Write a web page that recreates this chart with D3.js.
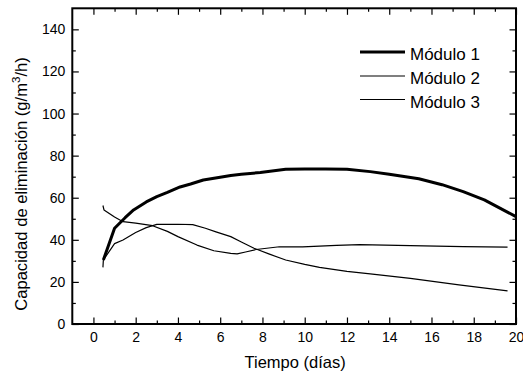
<!DOCTYPE html>
<html>
<head>
<meta charset="utf-8">
<script src="https://cdn.jsdelivr.net/npm/d3@7"></script>
<style>
  html, body { margin: 0; padding: 0; background: #fff; }
  svg { display: block; font-family: "Liberation Sans", Arial, sans-serif; }
</style>
</head>
<body>
<svg id="chart" width="523" height="375"></svg>
<script>
// Elimination capacity over time for three biofilter modules
const seriesNames = ["Módulo 1", "Módulo 2", "Módulo 3"];

const dias1 = [0.47, 1.0, 1.5, 1.9, 2.5, 3.0, 3.5, 4.1, 4.6, 5.2, 6.0, 6.5, 7.0, 7.9, 9.1, 10.0, 11.0, 12.0, 13.1, 14.0, 15.4, 16.5, 17.5, 18.5, 20.0];
const modulo1 = [30.4, 45.5, 50.5, 54.2, 58.0, 60.5, 62.5, 65.1, 66.5, 68.4, 69.7, 70.6, 71.1, 72.0, 73.5, 73.6, 73.6, 73.5, 72.4, 71.2, 69.0, 66.2, 62.9, 59.0, 51.0];

const dias2 = [0.45, 0.47, 1.0, 1.4, 2.0, 2.5, 3.0, 4.0, 4.7, 5.3, 5.8, 6.5, 7.0, 7.6, 8.3, 9.1, 10.0, 10.7, 12.0, 13.1, 15.0, 17.3, 19.6];
const modulo2 = [26.9, 30.4, 38.2, 39.9, 43.5, 45.8, 47.3, 47.4, 47.2, 45.5, 43.8, 41.5, 39.0, 36.0, 33.3, 30.4, 28.3, 26.9, 25.0, 23.8, 21.7, 18.6, 15.7];

const dias3 = [0.45, 0.5, 1.0, 1.4, 2.0, 2.8, 3.5, 4.0, 4.9, 5.7, 6.5, 6.8, 7.2, 7.7, 8.8, 9.9, 11.5, 12.6, 15.0, 17.5, 19.6];
const modulo3 = [56.3, 54.2, 50.8, 48.6, 47.9, 46.7, 44.0, 41.5, 37.5, 34.8, 33.6, 33.3, 34.2, 35.4, 36.7, 36.6, 37.4, 37.7, 37.2, 36.8, 36.5];

const xMajorTicks = [0, 2, 4, 6, 8, 10, 12, 14, 16, 18, 20];
const xMinorTicks = [1, 3, 5, 7, 9, 11, 13, 15, 17, 19];
const yMajorTicks = [0, 20, 40, 60, 80, 100, 120, 140];
const yMinorTicks = [10, 30, 50, 70, 90, 110, 130];

const xTitle = "Tiempo (días)";

const series = [
  { name: seriesNames[0], x: dias1, y: modulo1, width: 3 },
  { name: seriesNames[1], x: dias2, y: modulo2, width: 1.2 },
  { name: seriesNames[2], x: dias3, y: modulo3, width: 1.2 }
];

const svg = d3.select("#chart");
const plotLeft = 72.3, plotRight = 516, plotTop = 8.3, plotBottom = 324;

const x = d3.scaleLinear().domain([-1, 20]).range([plotLeft, plotRight]);
const y = d3.scaleLinear().domain([0, 150]).range([plotBottom, plotTop]);

const majorLen = 6.5, minorLen = 3.5;

// one set of inward-pointing ticks on a given edge
function tickAxis(g, axisFn, scale, values, len, withLabels, padding) {
  const a = axisFn(scale).tickValues(values).tickSizeInner(-len).tickSizeOuter(0).tickPadding(padding);
  if (!withLabels) a.tickFormat("");
  g.call(a);
  g.select(".domain").remove();
  g.selectAll(".tick line").attr("stroke", "#000").attr("stroke-width", 1.2);
  g.selectAll(".tick text").attr("fill", "#000").attr("font-size", 14)
    .attr("font-family", "'Liberation Sans', Arial, sans-serif");
}

const gB = svg.append("g").attr("transform", `translate(0,${plotBottom})`);
tickAxis(gB, d3.axisBottom, x, xMajorTicks, majorLen, true, 8.4);
const gBm = svg.append("g").attr("transform", `translate(0,${plotBottom})`);
tickAxis(gBm, d3.axisBottom, x, xMinorTicks, minorLen, false, 0);

const gT = svg.append("g").attr("transform", `translate(0,${plotTop})`);
tickAxis(gT, d3.axisTop, x, xMajorTicks, majorLen, false, 0);
const gTm = svg.append("g").attr("transform", `translate(0,${plotTop})`);
tickAxis(gTm, d3.axisTop, x, xMinorTicks, minorLen, false, 0);

const gL = svg.append("g").attr("transform", `translate(${plotLeft},0)`);
tickAxis(gL, d3.axisLeft, y, yMajorTicks, majorLen, true, 7);
const gLm = svg.append("g").attr("transform", `translate(${plotLeft},0)`);
tickAxis(gLm, d3.axisLeft, y, yMinorTicks, minorLen, false, 0);

const gR = svg.append("g").attr("transform", `translate(${plotRight},0)`);
tickAxis(gR, d3.axisRight, y, yMajorTicks, majorLen, false, 0);
const gRm = svg.append("g").attr("transform", `translate(${plotRight},0)`);
tickAxis(gRm, d3.axisRight, y, yMinorTicks, minorLen, false, 0);

// frame
svg.append("rect")
  .attr("x", plotLeft).attr("y", plotTop)
  .attr("width", plotRight - plotLeft).attr("height", plotBottom - plotTop)
  .attr("fill", "none").attr("stroke", "#000").attr("stroke-width", 2);

// data lines
const line = d3.line().x(d => x(d[0])).y(d => y(d[1])).curve(d3.curveLinear);
series.forEach(s => {
  svg.append("path")
    .datum(s.x.map((v, i) => [v, s.y[i]]))
    .attr("d", line)
    .attr("fill", "none")
    .attr("stroke", "#000")
    .attr("stroke-width", s.width)
    .attr("stroke-linejoin", "round");
});

// legend
const legendY = [52, 76, 99.5];
series.forEach((s, i) => {
  svg.append("line")
    .attr("x1", 360).attr("x2", 405)
    .attr("y1", legendY[i]).attr("y2", legendY[i])
    .attr("stroke", "#000").attr("stroke-width", s.width);
  svg.append("text")
    .attr("x", 410).attr("y", legendY[i] + 8.3)
    .attr("font-size", 17).attr("fill", "#000")
    .text(s.name);
});

// axis titles
svg.append("text")
  .attr("x", (x(-1) + x(20)) / 2 + 1).attr("y", 368.3)
  .attr("text-anchor", "middle").attr("font-size", 16.5).attr("fill", "#000")
  .text(xTitle);

const yt = svg.append("text")
  .attr("transform", "translate(26.5,184) rotate(-90)")
  .attr("text-anchor", "middle").attr("font-size", 16.6).attr("fill", "#000");
yt.append("tspan").text("Capacidad de eliminación (g/m");
yt.append("tspan").attr("font-size", 11.5).attr("dy", -6.5).text("3");
yt.append("tspan").attr("dy", 6.5).text("/h)");
</script>
</body>
</html>
